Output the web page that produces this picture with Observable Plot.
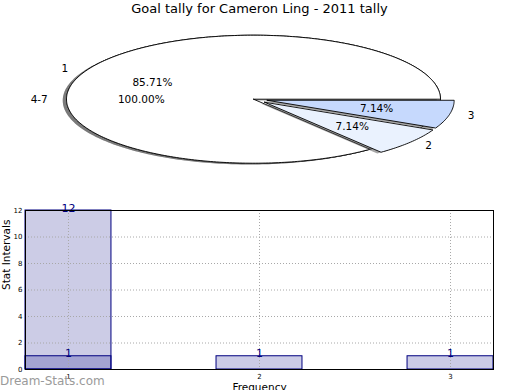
<!DOCTYPE html>
<html>
<head>
<meta charset="utf-8">
<script src="https://cdn.jsdelivr.net/npm/d3@7"></script>
<script src="https://cdn.jsdelivr.net/npm/@observablehq/plot@0.6"></script>
<style>
  html, body { margin: 0; padding: 0; background: white; }
  #wrap { position: relative; width: 520px; height: 390px; overflow: hidden; font-family: "DejaVu Sans", sans-serif; }
  #pie, #bars { position: absolute; left: 0; }
  #pie { top: 0; }
  #bars { top: 195px; }
  #title { position: absolute; left: 0; top: 1px; width: 519px; text-align: center; font-size: 13px; line-height: 16px; color: black; }
  #mark { position: absolute; left: 0; top: 374px; font-size: 12px; line-height: 14px; color: #9a9a9a; }
</style>
</head>
<body>
<div id="wrap">
  <div id="pie"></div>
  <div id="bars"></div>
  <div id="title">Goal tally for Cameron Ling - 2011 tally</div>
  <div id="mark">Dream-Stats.com</div>
</div>
<script>
// ---- data ----
const titleText = "Goal tally for Cameron Ling - 2011 tally";
const sliceLabels = ["1", "2", "3"];
const sliceCounts = [12, 1, 1];
const extraLabel = "4-7";
const extraCount = [1];

const barFrequency = [1, 1, 2, 3];
const barIntervals = [12, 1, 1, 1];
const xTicks = [1, 2, 3];
const yTicks = [0, 2, 4, 6, 8, 10, 12];
const xLabel = "Frequency";
const yLabel = "Stat Intervals";

// ---- pie geometry (data units: unit circle) ----
const sliceFills = ["white", "#eaf2fe", "#c6d9fd"];
const explodes = [0, 0.075, 0.075];
const total = d3.sum(sliceCounts);
let acc = 0;
const slices = sliceLabels.map((label, i) => {
  const a0 = acc / total * 2 * Math.PI;
  acc += sliceCounts[i];
  const a1 = acc / total * 2 * Math.PI;
  return {label, count: sliceCounts[i], pct: sliceCounts[i] / total * 100, a0, a1, ex: explodes[i], fill: sliceFills[i], full: false};
});
const extraSlice = {label: extraLabel, count: extraCount[0], pct: 100, a0: 0, a1: 2 * Math.PI, ex: 0, fill: "white", full: true};

function mid(s) { return (s.a0 + s.a1) / 2; }
function wedge(s, dx = 0, dy = 0) {
  const m = mid(s);
  const ox = s.ex * Math.cos(m) + dx, oy = s.ex * Math.sin(m) + dy;
  const n = Math.max(8, Math.ceil((s.a1 - s.a0) / (Math.PI / 180)));
  const pts = [];
  if (!s.full) pts.push({x: ox, y: oy});
  for (let k = 0; k <= n; k++) {
    const a = s.a0 + (s.a1 - s.a0) * k / n;
    pts.push({x: ox + Math.cos(a), y: oy + Math.sin(a)});
  }
  if (!s.full) pts.push({x: ox, y: oy});
  return pts;
}

const allSlices = [extraSlice, ...slices];
const pieMarks = [];
for (const s of allSlices) {
  pieMarks.push(Plot.line(wedge(s, -0.02, -0.02), {x: "x", y: "y", fill: "#4d4d4d", fillOpacity: 0.5, stroke: "none"}));
  pieMarks.push(Plot.line(wedge(s), {x: "x", y: "y", fill: s.fill, stroke: "black", strokeWidth: 0.9}));
}
const labelPts = allSlices.map(s => {
  const m = mid(s);
  return {
    label: s.label,
    pctText: s.pct.toFixed(2) + "%",
    lx: (s.ex + 1.1) * Math.cos(m), ly: (s.ex + 1.1) * Math.sin(m),
    px: (s.ex + 0.6) * Math.cos(m), py: (s.ex + 0.6) * Math.sin(m)
  };
});
pieMarks.push(Plot.text(labelPts.filter(d => d.lx >= 0), {x: "lx", y: "ly", text: "label", textAnchor: "start", fontSize: 10.5, fill: "black"}));
pieMarks.push(Plot.text(labelPts.filter(d => d.lx < 0), {x: "lx", y: "ly", text: "label", textAnchor: "end", fontSize: 10.5, fill: "black"}));
pieMarks.push(Plot.text(labelPts, {x: "px", y: "py", text: "pctText", fontSize: 10.5, fill: "black"}));

const pie = Plot.plot({
  width: 520, height: 195,
  style: {fontFamily: "DejaVu Sans", background: "transparent", color: "black"},
  x: {domain: [-1, 1], range: [66, 440], axis: null},
  y: {domain: [-1, 1], range: [162.7, 34.7], axis: null},
  marks: pieMarks
});
document.getElementById("pie").append(pie);

// ---- bar chart ----
const bars = barFrequency.map((f, i) => ({f, v: barIntervals[i]}));
const halfW = 0.225;
const gridStyle = {stroke: "#a8a8a8", strokeOpacity: 1, strokeWidth: 1, strokeDasharray: "1,2"};
const barPlot = Plot.plot({
  width: 520, height: 195,
  marginTop: 15, marginBottom: 21, marginLeft: 25, marginRight: 27,
  style: {fontFamily: "DejaVu Sans", fontSize: "7px", background: "transparent", color: "black"},
  x: {domain: [1 - halfW, 3 + halfW]},
  y: {domain: [0, 12]},
  marks: [
    Plot.rectY(bars, {x1: d => d.f - halfW, x2: d => d.f + halfW, y1: 0, y2: "v", fill: "#000080", fillOpacity: 0.2, stroke: "#000080", strokeWidth: 1}),
    Plot.gridY(yTicks, gridStyle),
    Plot.gridX(xTicks, gridStyle),
    Plot.text(bars, {x: "f", y: "v", text: d => String(d.v), fill: "#000080", fontSize: 11, lineAnchor: "bottom", dy: 1}),
    Plot.frame({stroke: "black", strokeWidth: 1}),
    Plot.axisX(xTicks, {tickSize: 0, tickPadding: 5, label: null, fontSize: 7, tickFormat: d => String(d)}),
    Plot.axisY(yTicks, {tickSize: 0, tickPadding: 3, label: null, fontSize: 7, tickFormat: d => String(d)}),
    Plot.text([yLabel], {frameAnchor: "left", rotate: -90, dx: -19, fontSize: 10.5, fill: "black"}),
    Plot.text([xLabel], {frameAnchor: "bottom", dy: 21, fontSize: 10.5, fill: "black"})
  ]
});
document.getElementById("bars").append(barPlot);
document.getElementById("title").textContent = titleText;
</script>
</body>
</html>
